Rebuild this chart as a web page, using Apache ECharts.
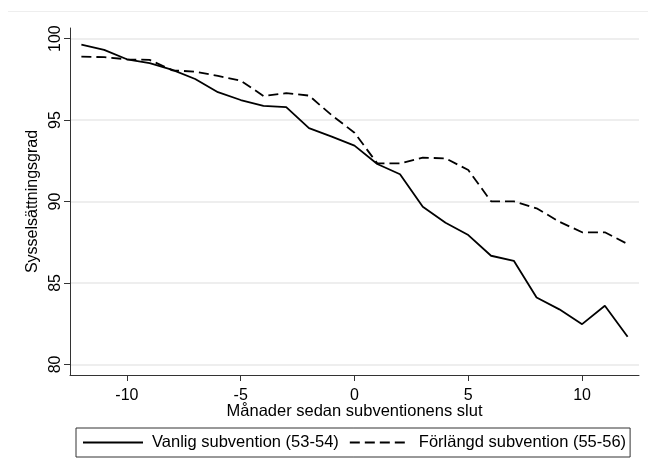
<!DOCTYPE html>
<html>
<head>
<meta charset="utf-8">
<script src="https://cdn.jsdelivr.net/npm/echarts@6/dist/echarts.min.js"></script>
<style>
  html, body { margin: 0; padding: 0; background: #fff; }
  #chart { width: 648px; height: 472px; }
</style>
</head>
<body>
<div id="chart"></div>
<script>
const months = [-12, -11, -10, -9, -8, -7, -6, -5, -4, -3, -2, -1, 0, 1, 2, 3, 4, 5, 6, 7, 8, 9, 10, 11, 12];
const vanlig = [99.63, 99.31, 98.73, 98.49, 98.08, 97.52, 96.71, 96.23, 95.87, 95.79, 94.5, 93.98, 93.43, 92.3, 91.67, 89.68, 88.7, 87.94, 86.67, 86.36, 84.11, 83.38, 82.47, 83.6, 81.7];
const forlangd = [98.89, 98.86, 98.73, 98.69, 98.05, 97.97, 97.71, 97.42, 96.48, 96.65, 96.5, 95.3, 94.22, 92.34, 92.34, 92.69, 92.65, 91.93, 90.01, 90.01, 89.58, 88.76, 88.11, 88.11, 87.39];
const xTicks = [-10, -5, 0, 5, 10];
const yTicks = [80, 85, 90, 95, 100];
const seriesNames = ["Vanlig subvention (53-54)", "Förlängd subvention (55-56)"];

const font = "'Liberation Sans', Arial, sans-serif";
const chart = echarts.init(document.getElementById("chart"));

chart.setOption({
  animation: false,
  textStyle: { fontFamily: font },
  grid: { left: 70, right: 9, top: 28, bottom: 97 },
  graphic: [
    {
      type: "line",
      shape: { x1: 8, y1: 11.5, x2: 648, y2: 11.5 },
      style: { stroke: "#eeeeee", lineWidth: 1 },
      silent: true
    }
  ],
  legend: {
    left: 76,
    top: 428,
    padding: [6, 4, 6, 6],
    borderColor: "#333",
    borderWidth: 1,
    itemWidth: 60,
    itemHeight: 14,
    itemGap: 10,
    itemStyle: { opacity: 0 },
    textStyle: { fontSize: 16.5, color: "#000", fontFamily: font, padding: [0, 0, 0, 4] },
    data: seriesNames
  },
  xAxis: {
    type: "value",
    min: -12.5,
    max: 12.5,
    name: "Månader sedan subventionens slut",
    nameLocation: "middle",
    nameGap: 28,
    nameMoveOverlap: false,
    nameTextStyle: { fontSize: 16.5, color: "#000", fontFamily: font },
    axisLine: { onZero: false, lineStyle: { color: "#333", width: 1 } },
    axisTick: { show: true, length: 6, customValues: xTicks, lineStyle: { color: "#333" } },
    axisLabel: { customValues: xTicks, margin: 13, fontSize: 16, color: "#000", fontFamily: font },
    splitLine: { show: false }
  },
  yAxis: {
    type: "value",
    min: 79.35,
    max: 100.65,
    name: "Sysselsättningsgrad",
    nameLocation: "middle",
    nameGap: 29,
    nameMoveOverlap: false,
    nameTextStyle: { fontSize: 16, color: "#000", fontFamily: font },
    axisLine: { show: true, onZero: false, lineStyle: { color: "#333", width: 1 } },
    axisTick: { show: true, length: 6, customValues: yTicks, lineStyle: { color: "#333" } },
    axisLabel: { customValues: yTicks, rotate: 90, margin: 6, fontSize: 16, color: "#000", fontFamily: font },
    splitLine: { show: true, lineStyle: { color: "#e8e8e8", width: 1.5 } }
  },
  series: [
    {
      name: seriesNames[0],
      type: "line",
      data: months.map((m, i) => [m, vanlig[i]]),
      symbol: "none",
      lineStyle: { color: "#000", width: 1.8, type: "solid" },
      itemStyle: { color: "#000" }
    },
    {
      name: seriesNames[1],
      type: "line",
      data: months.map((m, i) => [m, forlangd[i]]),
      symbol: "none",
      lineStyle: { color: "#000", width: 1.8, type: [10, 5] },
      itemStyle: { color: "#000" }
    }
  ]
});
</script>
</body>
</html>
